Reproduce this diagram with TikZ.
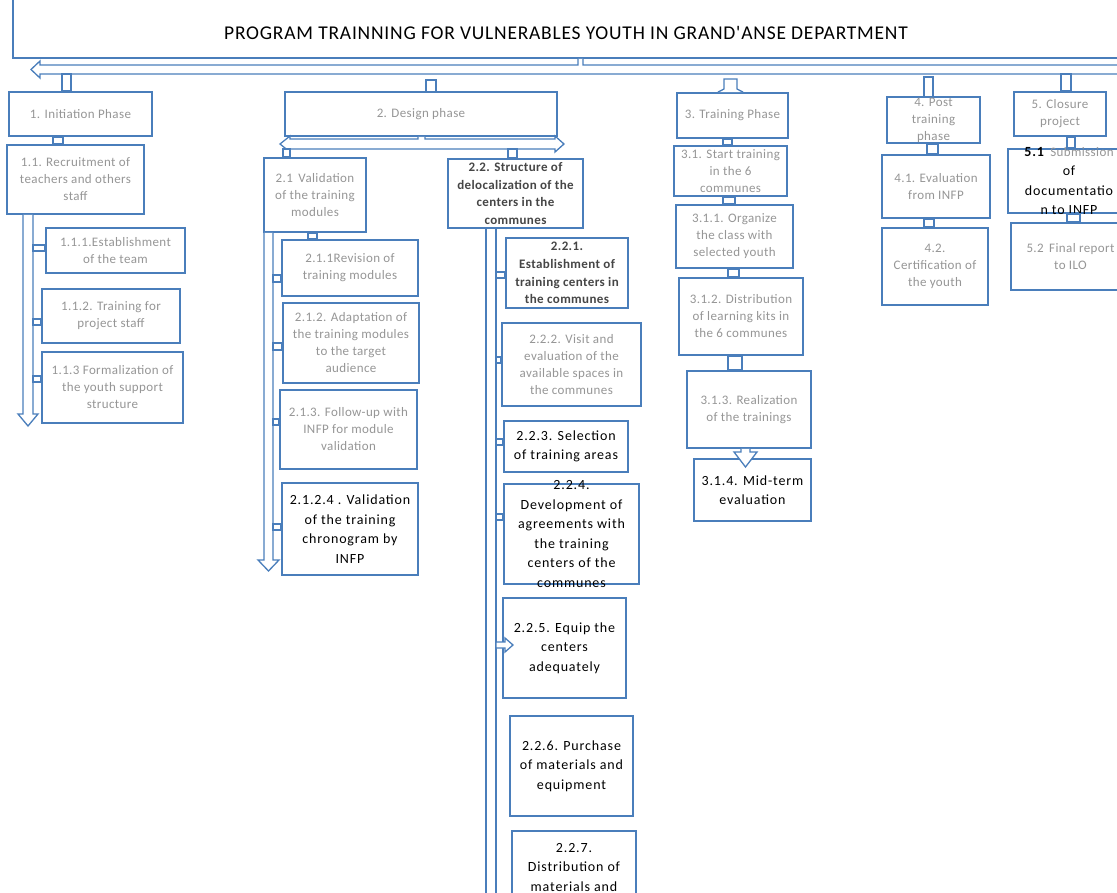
\documentclass[tikz,border=0pt]{standalone}
\usepackage{fontspec}
\setmainfont{Carlito}
\newfontfamily\greyfont[LetterSpace=3]{Carlito}
\newfontfamily\blackfont[LetterSpace=6]{Carlito}
\newfontfamily\headfont[LetterSpace=4]{Carlito}
\usetikzlibrary{fit,calc}
\definecolor{wbsblue}{RGB}{74,126,187}
\definecolor{softgray}{RGB}{150,150,150}
\definecolor{inkgray}{RGB}{70,70,70}

% a WBS box: name, corner, corner, text style, text
\newcommand\wbsnode[5]{%
  \node[box, fit={(#2) (#3)}] (#1) {};
  \node[#4] (#1-t) at (#1.center) {#5};}
% a hollow vertical stem between two stacked boxes: upper, lower, x left, x right
\newcommand\stem[4]{%
  \draw[hollow] (#1.south -| #3,0) rectangle (#2.north -| #4,0);}
% a hollow stub from a spine edge to a box: spine coordinate, box, y top, y bottom
\newcommand\stub[4]{%
  \draw[hollow] (#1 |- 0,#3) rectangle (#2.west |- 0,#4);}

\begin{document}
\begin{tikzpicture}[x=1pt,y=-1pt,
  box/.style={draw=wbsblue, line width=1.8pt, fill=white, inner sep=0pt, rectangle},
  hollow/.style={draw=wbsblue, line width=1.3pt, fill=white, line join=miter},
  greytxt/.style={text=softgray, font=\greyfont\fontsize{13}{17}\selectfont, align=center, inner sep=0pt},
  blacktxt/.style={text=black, font=\blackfont\fontsize{14}{19.5}\selectfont, align=center, inner sep=0pt},
  darktxt/.style={text=inkgray, font=\greyfont\bfseries\fontsize{13}{17.6}\selectfont, align=center, inner sep=0pt},
  titletxt/.style={text=black, font=\headfont\fontsize{19.5}{22}\selectfont, inner sep=0pt}]

\useasboundingbox (0,0) rectangle (1117,893);

% title banner
\node[box, fit={(13,-6) (1130,58)}] (title) {};
\node[titletxt] (title-t) at (566,33) {PROGRAM TRAINNING FOR VULNERABLES YOUTH IN GRAND'ANSE DEPARTMENT};

% main distribution bar under the banner
\coordinate (hubL) at (31,69.5);
\draw[hollow] (title.south -| 578,0) -- (578,65) -- (40,65) -- (40,61) -- (hubL)
  -- (40,78) -- (40,74) -- (1130,74) -- (1130,65) -- (583,65) -- (title.south -| 583,0);

% ---------------- 1. Initiation ----------------
\wbsnode{p1}{9,92}{152,136}{greytxt}{1. Initiation Phase}
\wbsnode{r11}{7,145}{144,214}{greytxt}{1.1. Recruitment of\\teachers and others\\staff}
\wbsnode{r111}{46,228}{185,273}{greytxt}{1.1.1.Establishment\\of the team}
\wbsnode{r112}{42,289}{180,343}{greytxt}{1.1.2. Training for\\project staff}
\wbsnode{r113}{42,352}{183,423}{greytxt}{1.1.3 Formalization of\\the youth support\\structure}

\draw[hollow] (62,74) rectangle (p1.north -| 71,0);
\stem{p1}{r11}{53}{63}
\coordinate (s1) at (33,214);
\coordinate (s1tip) at (28,426);
\draw[hollow] (r11.south -| 23,0) -- (23,414) -- (18,414) -- (s1tip) -- (38,414) -- (33,414) -- (r11.south -| 33,0);
\stub{s1}{r111}{245}{251}
\stub{s1}{r112}{319}{325}
\stub{s1}{r113}{376}{382}

% ---------------- 2. Design ----------------
\wbsnode{p2}{285,92}{557,136}{greytxt}{2. Design phase}
\draw[hollow] (p2.north -| 426,0) -- (426,80) -- (436,80) -- (p2.north -| 436,0);
\coordinate (dl) at (280,144);
\coordinate (dr) at (564,144);
\draw[hollow] (p2.south -| 418,0) -- (418,139) -- (290,139) -- (290,136) -- (dl) -- (290,152)
  -- (290,149) -- (555,149) -- (555,152) -- (dr) -- (555,136) -- (555,139) -- (425,139) -- (p2.south -| 425,0);

\wbsnode{r21}{264,158}{366,232}{greytxt}{2.1\, Validation\\of the training\\modules}
\wbsnode{r22}{448,159}{583,228}{darktxt}{2.2. Structure of\\delocalization of the\\centers in the\\communes}
\draw[hollow] (283,149) rectangle (r21.north -| 290,0);
\draw[hollow] (508,149) rectangle (r22.north -| 517,0);

% 2.1 branch
\wbsnode{r211}{282,240}{418,296}{greytxt}{2.1.1Revision of\\training modules}
\wbsnode{r212}{283,303}{419,383}{greytxt}{2.1.2. Adaptation of\\the training modules\\to the target\\audience}
\wbsnode{r213}{280,390}{417,469}{greytxt}{2.1.3. Follow-up with\\INFP for module\\validation}
\wbsnode{r2124}{282,483}{418,575}{blacktxt}{2.1.2.4 . Validation\\of the training\\chronogram by\\INFP}
\stem{r21}{r211}{308}{317}
\coordinate (s21) at (273,232);
\coordinate (s21tip) at (268.5,571);
\draw[hollow] (r21.south -| 264,0) -- (264,560) -- (258,560) -- (s21tip) -- (279,560) -- (273,560) -- (r21.south -| 273,0);
\stub{s21}{r211}{275}{282}
\stub{s21}{r212}{343}{350}
\stub{s21}{r213}{419}{425}
\stub{s21}{r2124}{524}{530}

% 2.2 branch
\wbsnode{r221}{506,238}{628,308}{darktxt}{2.2.1.\\Establishment of\\training centers in\\the communes}
\wbsnode{r222}{502,323}{641,406}{greytxt}{2.2.2. Visit and\\evaluation of the\\available spaces in\\the communes}
\wbsnode{r223}{504,421}{628,472}{blacktxt}{2.2.3. Selection\\of training areas}
\wbsnode{r224}{504,484}{639,584}{blacktxt}{2.2.4.\\Development of\\agreements with\\the training\\centers of the\\communes}
\wbsnode{r225}{503,598}{626,698}{blacktxt}{2.2.5. Equip the\\centers\\adequately}
\wbsnode{r226}{510,716}{633,816}{blacktxt}{2.2.6. Purchase\\of materials and\\equipment}
\node[box, fit={(512,831) (636,905)}] (r227) {};
\node[blacktxt, anchor=north] (r227-t) at (574,843) {2.2.7.\\Distribution of\\materials and};

\coordinate (s22) at (496,228);
\draw[hollow] (r22.south -| 486,0) -- (486,905) -- (496,905) -- (r22.south -| 496,0);
\stub{s22}{r221}{272}{278}
\stub{s22}{r222}{357}{363}
\stub{s22}{r223}{439}{445}
\stub{s22}{r224}{514}{520}
\coordinate (a225) at (513,645);
\draw[hollow] (s22 |- 0,642) -- (r225.west |- 0,642) -- (505,642) -- (505,638) -- (a225)
  -- (505,652) -- (505,648) -- (s22 |- 0,648) -- cycle;

% ---------------- 3. Training ----------------
\wbsnode{p3}{677,93}{788,138}{greytxt}{3. Training Phase}
\draw[hollow] (p3.north -| 718,0) -- (724,89) -- (724,79) -- (737,79) -- (737,89) -- (p3.north -| 743,0);
\wbsnode{r31}{674,146}{787,196}{greytxt}{3.1. Start training\\in the 6\\communes}
\wbsnode{r311}{676,205}{793,268}{greytxt}{3.1.1. Organize\\the class with\\selected youth}
\wbsnode{r312}{679,278}{803,355}{greytxt}{3.1.2. Distribution\\of learning kits in\\the 6 communes}
\wbsnode{r313}{687,371}{811,448}{greytxt}{3.1.3. Realization\\of the trainings}
\wbsnode{r314}{694,459}{811,521}{blacktxt}{3.1.4. Mid-term\\evaluation}
\stem{p3}{r31}{723}{732}
\stem{r31}{r311}{723}{735}
\stem{r311}{r312}{728}{739}
\stem{r312}{r313}{728}{742}
\coordinate (a314) at (745.5,467);
\draw[hollow] (r313.south -| 741,0) -- (741,452) -- (734,452) -- (a314) -- (757,452) -- (750,452) -- (r313.south -| 750,0);

% ---------------- 4. Post training ----------------
\wbsnode{p4}{887,97}{980,143}{greytxt}{4. Post\\training\\phase}
\draw[hollow] (p4.north -| 924,0) -- (924,77) -- (933,77) -- (p4.north -| 933,0);
\wbsnode{r41}{882,155}{990,218}{greytxt}{4.1. Evaluation\\from INFP}
\wbsnode{r42}{882,228}{988,305}{greytxt}{4.2.\\Certification of\\the youth}
\stem{p4}{r41}{927}{938}
\stem{r41}{r42}{924}{934}

% ---------------- 5. Closure ----------------
\wbsnode{p5}{1014,92}{1106,136}{greytxt}{5. Closure\\project}
\draw[hollow] (1061,74) rectangle (p5.north -| 1071,0);
\wbsnode{r52}{1011,223}{1130,290}{greytxt}{5.2\, Final report\\to ILO}
\wbsnode{r51}{1008,149}{1130,213}{blacktxt}{{\bfseries 5.1}\, {\color{softgray}\greyfont\fontsize{13}{17}\selectfont Submission}\\of\\documentatio\\n to INFP}
\stem{p5}{r51}{1067}{1075}
\stem{r51}{r52}{1067}{1080}

\end{tikzpicture}
\end{document}
